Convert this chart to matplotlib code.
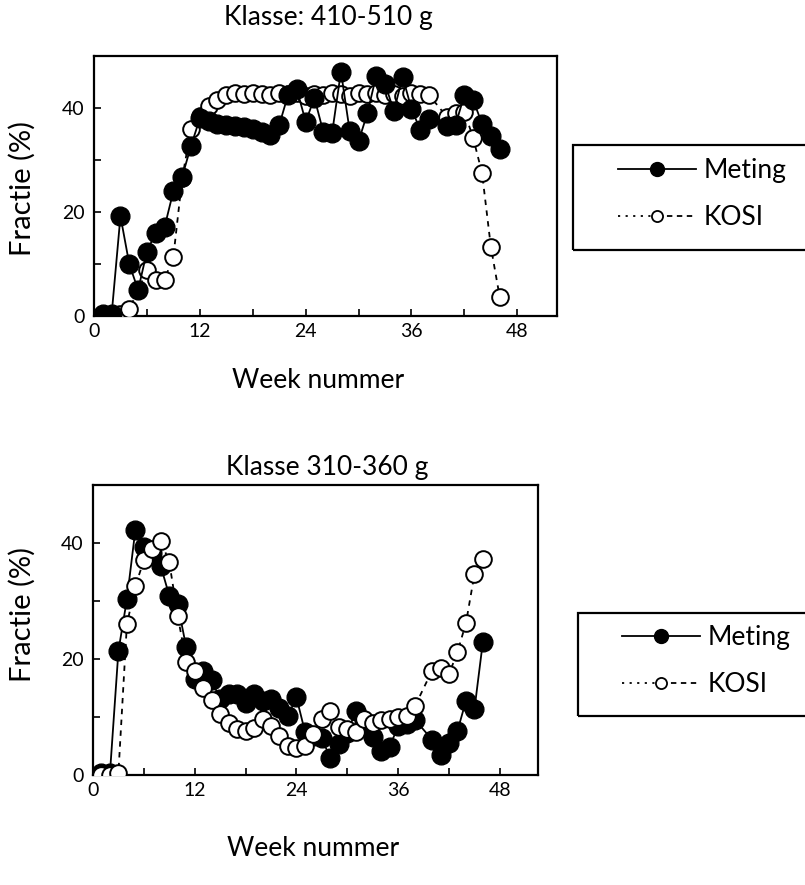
import matplotlib
matplotlib.use("Agg")
import matplotlib.pyplot as plt
from matplotlib.lines import Line2D
from matplotlib.patches import Rectangle
from matplotlib.legend_handler import HandlerBase

plt.rcParams['font.family'] = ['Lato', 'DejaVu Sans']

# ---- data (week 39 missing in both) ----
weeks = list(range(1, 39)) + list(range(40, 47))

top_meting = [0.3, 0.3, 19.2, 10.0, 5.0, 12.4, 16.0, 17.1, 24.0, 26.8,
              32.7, 38.0, 37.5, 37.0, 36.8, 36.5, 36.3, 36.0, 35.3, 34.8,
              36.7, 42.5, 43.6, 37.4, 41.9, 35.4, 35.2, 47.0, 35.5, 33.6,
              39.0, 46.2, 44.7, 39.4, 46.0, 39.8, 35.8, 37.8,
              36.5, 36.8, 42.5, 41.5, 37.0, 34.7, 32.1]
top_kosi = [0.0, 0.0, 0.3, 1.3, 5.0, 8.8, 6.9, 7.0, 11.4, 26.5,
            36.0, 38.5, 40.3, 41.5, 42.5, 42.8, 42.6, 42.9, 42.7, 42.5,
            42.8, 42.6, 42.9, 42.4, 42.7, 42.5, 42.8, 42.6, 42.4, 42.8,
            42.6, 42.9, 42.5, 42.7, 42.4, 42.8, 42.6, 42.5,
            38.3, 39.0, 39.3, 34.2, 27.5, 13.3, 3.7]

bot_meting = [0.3, 0.3, 21.4, 30.3, 42.3, 39.3, 38.3, 36.0, 30.9, 29.4,
              22.0, 16.6, 18.0, 16.3, 13.1, 14.0, 14.0, 12.5, 14.0, 12.8,
              13.1, 11.5, 10.2, 13.4, 7.5, 6.8, 6.3, 2.9, 5.3, 7.3,
              11.0, 9.0, 6.5, 4.2, 4.8, 8.5, 8.8, 9.5,
              6.1, 3.5, 5.5, 7.6, 12.8, 11.3, 23.0]
bot_kosi = [0.0, 0.0, 0.4, 26.0, 32.6, 37.0, 39.0, 40.4, 36.7, 27.4,
            19.5, 18.0, 15.0, 13.0, 10.5, 9.0, 7.9, 7.6, 8.1, 9.6,
            8.5, 6.7, 5.0, 4.7, 5.0, 7.0, 9.6, 11.1, 8.2, 8.0,
            7.5, 9.6, 9.0, 9.5, 9.6, 10.0, 10.2, 11.9,
            18.0, 18.5, 17.4, 21.2, 26.2, 34.6, 37.2]

xticks = list(range(0, 49, 6))
xticklabels = ['0', '', '12', '', '24', '', '36', '', '48']
yticks = [0, 10, 20, 30, 40]
yticklabels = ['0', '', '20', '', '40']

W, H = 805, 885
KOSI_LS = (0, (3, 3))


class SplitHandler(HandlerBase):
    """dotted left half, dashed right half, small open circle in the middle"""
    def create_artists(self, legend, orig, xd, yd, w, h, fontsize, trans):
        y = (h - yd) / 2
        x0, x1 = -xd, w - xd
        xm = (x0 + x1) / 2
        a = Line2D([x0, xm], [y, y], color='k', lw=1.3, ls=(0, (1.2, 3)))
        b = Line2D([xm, x1], [y, y], color='k', lw=1.3, ls=(0, (3, 2.5)))
        m = Line2D([xm], [y], marker='o', ms=8, mfc='white', mec='k', mew=1.3, ls='none')
        for art in (a, b, m):
            art.set_transform(trans)
        return [a, b, m]


def px_ax(l, t, r, b):
    return [l / W, 1 - b / H, (r - l) / W, (b - t) / H]


def panel(rect, met, kosi, kosi_on_top):
    ax = fig.add_axes(rect)
    zm, zk = (5, 4) if not kosi_on_top else (4, 5)
    ax.plot(weeks, met, color='k', lw=1.3, marker='o', ms=13.5, mfc='k', mec='k', zorder=zm)
    ax.plot(weeks, kosi, color='k', lw=1.3, ls=KOSI_LS, marker='o', ms=12,
            mfc='white', mec='k', mew=1.4, zorder=zk)
    ax.set_xlim(0, 52.5)
    ax.set_ylim(0, 50)
    ax.set_xticks(xticks)
    ax.set_xticklabels(xticklabels)
    ax.set_yticks(yticks)
    ax.set_yticklabels(yticklabels)
    ax.tick_params(direction='in', length=5, width=1.2, labelsize=14)
    ax.tick_params(axis='x', pad=5)
    ax.tick_params(axis='y', pad=7)
    for s in ax.spines.values():
        s.set_linewidth(1.6)
    return ax


def legend_box(top, bottom, left, handle_left, row_top):
    fig.patches.append(Rectangle((left / W, 1 - bottom / H), (W + 20 - left) / W, (bottom - top) / H,
                                 transform=fig.transFigure, fill=False, ec='k', lw=1.6, clip_on=False))
    handles = [Line2D([], [], color='k', lw=1.3, marker='o', ms=10, mfc='k', mec='k'), 'kosi']
    fig.legend(handles, ['Meting', 'KOSI'], handler_map={str: SplitHandler()},
               loc='upper left', bbox_to_anchor=(handle_left / W, 1 - row_top / H),
               frameon=False, fontsize=19, handlelength=2.95, handletextpad=0.3,
               labelspacing=0.85, borderpad=0, borderaxespad=0)


fig = plt.figure(figsize=(W / 100, H / 100), dpi=100)

panel(px_ax(94, 56, 557, 316), top_meting, top_kosi, kosi_on_top=False)
panel(px_ax(93, 485, 538, 775), bot_meting, bot_kosi, kosi_on_top=True)

fig.text(328 / W, 1 - 18 / H, 'Klasse: 410-510 g', ha='center', va='center', fontsize=19)
fig.text(327 / W, 1 - 467 / H, 'Klasse 310-360 g', ha='center', va='center', fontsize=19)
fig.text(318 / W, 1 - 381 / H, 'Week nummer', ha='center', va='center', fontsize=19)
fig.text(313 / W, 1 - 848 / H, 'Week nummer', ha='center', va='center', fontsize=19)
fig.text(22 / W, 1 - 188 / H, 'Fractie (%)', ha='center', va='center', rotation=90, fontsize=21)
fig.text(22 / W, 1 - 614 / H, 'Fractie (%)', ha='center', va='center', rotation=90, fontsize=21)

legend_box(145, 250, 573, 618, 158)
legend_box(613, 716, 578, 622, 625)

fig.savefig('out.png', dpi=100)
